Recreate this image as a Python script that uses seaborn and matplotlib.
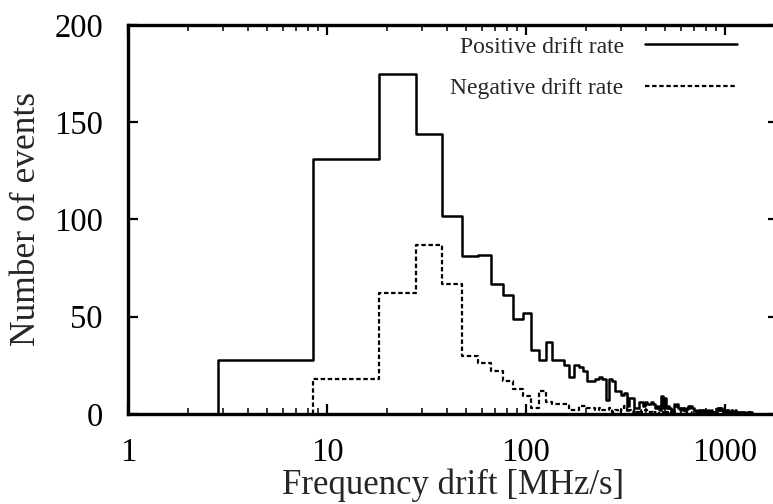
import numpy as np
import pandas as pd
import matplotlib
matplotlib.use("Agg")
import matplotlib.pyplot as plt
import matplotlib.ticker as mticker
import seaborn as sns

# ---- data ----
first_edge = 2.83      # left edge of the first (wide) bin, MHz/s
bin_start = 8.5        # left edge of the regular bins, MHz/s
bin_width = 9.75       # width of the regular bins, MHz/s
pos_first = 28         # positive-drift count in [first_edge, bin_start]
neg_first = 0

pos_counts = [131, 175, 144, 102, 81, 82, 67, 61, 49, 52,
              33, 28, 37, 28, 28, 25, 19, 25, 24, 22,
              17, 17, 18, 19, 18, 7, 18, 17, 12, 12,
              10, 11, 4, 8, 8, 3, 3, 6, 6, 4,
              6, 5, 5, 6, 5, 3, 4, 2, 9, 3,
              8, 3, 4, 3, 2, 1, 5, 4, 5, 3,
              2, 3, 2, 3, 2, 3, 4, 3, 4, 3,
              3, 2, 2, 1, 2, 2, 1, 2, 2, 1,
              2, 2, 1, 1, 2, 1, 1, 2, 1, 1,
              0, 1, 1, 3, 2, 3, 2, 3, 2, 1,
              2, 1, 1, 2, 1, 1, 2, 1, 1, 1,
              2, 1, 1, 1, 1, 2, 1, 1, 1, 0,
              1, 1, 1, 0, 1, 1, 0, 1, 1, 0,
              0, 0, 1, 1, 0, 1, 1, 0, 1, 1, 0]

neg_counts = [18, 62, 87, 67, 30, 26, 22, 17, 13, 9,
              3, 12, 6, 5, 5, 5, 2, 2, 4, 4,
              3, 3, 2, 3, 2, 2, 3, 1, 2, 1,
              2, 4, 1, 2, 1, 2, 1, 2, 1, 1,
              2, 1, 1, 1, 0, 1, 1, 0, 1, 1,
              0, 1, 0, 0, 1, 0, 0, 1, 0, 0,
              1, 0, 0, 0, 1, 0, 0, 0, 0, 1,
              0, 0, 0, 0, 0, 1, 0, 0, 0, 0, 0]

x_ticks = [1, 10, 100, 1000]
y_ticks = [0, 50, 100, 150, 200]
series_labels = ["Positive drift rate", "Negative drift rate"]


def step_frame(counts, first_count, with_first_bin):
    edges = bin_start + bin_width * np.arange(len(counts) + 1)
    if with_first_bin:
        xs = [first_edge, first_edge]
        ys = [0, first_count]
    else:
        xs = [bin_start]
        ys = [0]
    xs += list(edges)
    ys += list(counts) + [0]
    return pd.DataFrame({"x": xs, "y": ys})


pos_df = step_frame(pos_counts, pos_first, True)
neg_df = step_frame(neg_counts, neg_first, False)

sns.set_style("ticks")
plt.rcParams["font.family"] = ["Liberation Serif", "DejaVu Serif"]

fig = plt.figure(figsize=(7.73, 5.04), dpi=100)
ax = fig.add_axes([128 / 773, 1 - 414 / 504, (778 - 128) / 773, (414 - 25) / 504])

sns.lineplot(data=pos_df, x="x", y="y", estimator=None, sort=False,
             drawstyle="steps-post", color="black", linewidth=1.8,
             label=series_labels[0], ax=ax)
sns.lineplot(data=neg_df, x="x", y="y", estimator=None, sort=False,
             drawstyle="steps-post", color="black", linewidth=1.6,
             linestyle=(0, (2.0, 1.2)), label=series_labels[1], ax=ax)

ax.set_xscale("log")
ax.set_xlim(1, 1850)
ax.set_ylim(0, 200)
ax.set_xticks(x_ticks)
ax.xaxis.set_major_formatter(mticker.FuncFormatter(lambda v, p: f"{v:g}"))
ax.xaxis.set_minor_locator(mticker.LogLocator(base=10, subs=np.arange(2, 10), numticks=20))
ax.xaxis.set_minor_formatter(mticker.NullFormatter())
ax.set_yticks(y_ticks)

for s in ax.spines.values():
    s.set_linewidth(2.4)
    s.set_color("black")

ax.tick_params(axis="both", which="major", direction="in", length=7, width=1.6,
               top=True, right=True, labelsize=23.5, colors="black")
ax.tick_params(axis="x", which="minor", direction="in", length=4, width=1.3,
               top=True)
ax.tick_params(axis="y", which="major", pad=18)
ax.tick_params(axis="x", which="major", pad=17)

ax.set_xlabel("Frequency drift [MHz/s]", fontsize=25, labelpad=0)
ax.set_ylabel("Number of events", fontsize=25.5, labelpad=8)

leg = ax.legend(loc="upper right", bbox_to_anchor=(737 / 773, 1 - 36 / 504),
                bbox_transform=fig.transFigure, frameon=False, markerfirst=False,
                fontsize=17, handlelength=3.9, handletextpad=0.9,
                labelspacing=0.85, borderpad=0, borderaxespad=0)
for t in leg.get_texts():
    t.set_ha("right")

fig.savefig("out.png", dpi=100)
